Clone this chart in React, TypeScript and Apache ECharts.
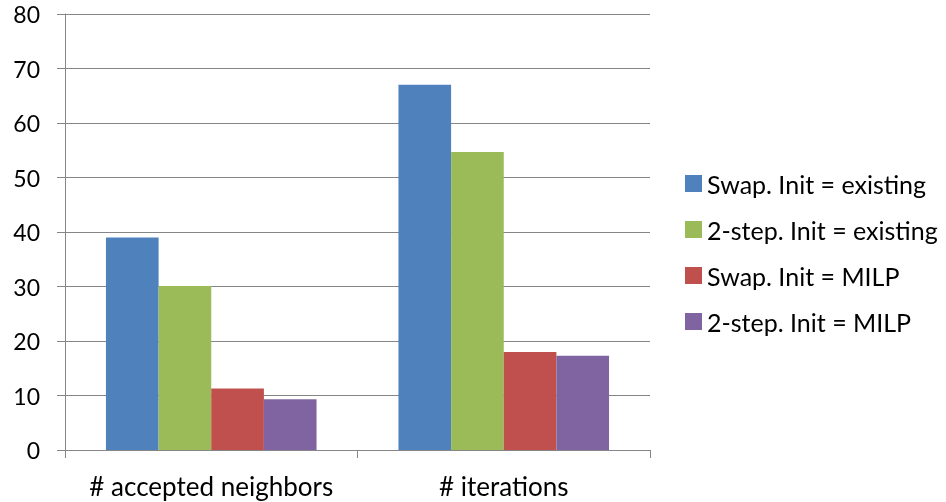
import React, { useEffect, useRef } from "react";
import * as echarts from "echarts";

const categories = ["# accepted neighbors", "# iterations"];
const seriesNames = [
  "Swap. Init = existing",
  "2-step. Init = existing",
  "Swap. Init = MILP",
  "2-step. Init = MILP",
];
const swapExisting = [39.0, 67.0];
const twoStepExisting = [30.1, 54.7];
const swapMilp = [11.3, 18.0];
const twoStepMilp = [9.3, 17.3];
const colors = ["#4F81BD", "#9BBB59", "#C0504D", "#8064A2"];
const yTicks = { min: 0, max: 80, interval: 10 };

const FONT = "Lato, 'Open Sans', sans-serif";

export default function App() {
  const ref = useRef<HTMLDivElement>(null);

  useEffect(() => {
    if (!ref.current) return;
    const chart = echarts.init(ref.current, null, { renderer: "svg" });
    const values = [swapExisting, twoStepExisting, swapMilp, twoStepMilp];
    chart.setOption({
      animation: false,
      color: colors,
      textStyle: { fontFamily: FONT },
      grid: { left: 65, right: 296, top: 14, bottom: 52 },
      legend: {
        orient: "vertical",
        left: 680,
        top: 166,
        itemWidth: 17,
        itemHeight: 17,
        itemGap: 21,
        icon: "rect",
        data: seriesNames,
        textStyle: {
          fontFamily: FONT,
          fontSize: 25,
          lineHeight: 24,
          color: "#000",
        },
      },
      xAxis: {
        type: "category",
        data: categories,
        axisLine: { show: true, lineStyle: { color: "#868686", width: 1 } },
        axisTick: { show: true, length: 8, lineStyle: { color: "#868686" } },
        axisLabel: {
          interval: 0,
          margin: 23,
          fontFamily: FONT,
          fontSize: 26,
          color: "#000",
        },
      },
      yAxis: {
        type: "value",
        min: yTicks.min,
        max: yTicks.max,
        interval: yTicks.interval,
        axisLine: { show: true, lineStyle: { color: "#868686", width: 1 } },
        axisTick: { show: true, length: 8, lineStyle: { color: "#868686" } },
        splitLine: { show: true, lineStyle: { color: "#868686", width: 1 } },
        axisLabel: {
          margin: 25,
          fontFamily: FONT,
          fontSize: 23,
          color: "#000",
        },
      },
      series: seriesNames.map((name, i) => ({
        name,
        type: "bar",
        data: values[i],
        barGap: "0%",
        barCategoryGap: "28%",
        itemStyle: { color: colors[i] },
      })),
    });
    return () => chart.dispose();
  }, []);

  return (
    <div
      ref={ref}
      style={{ position: "fixed", left: 0, top: 0, width: 946, height: 502 }}
    />
  );
}
